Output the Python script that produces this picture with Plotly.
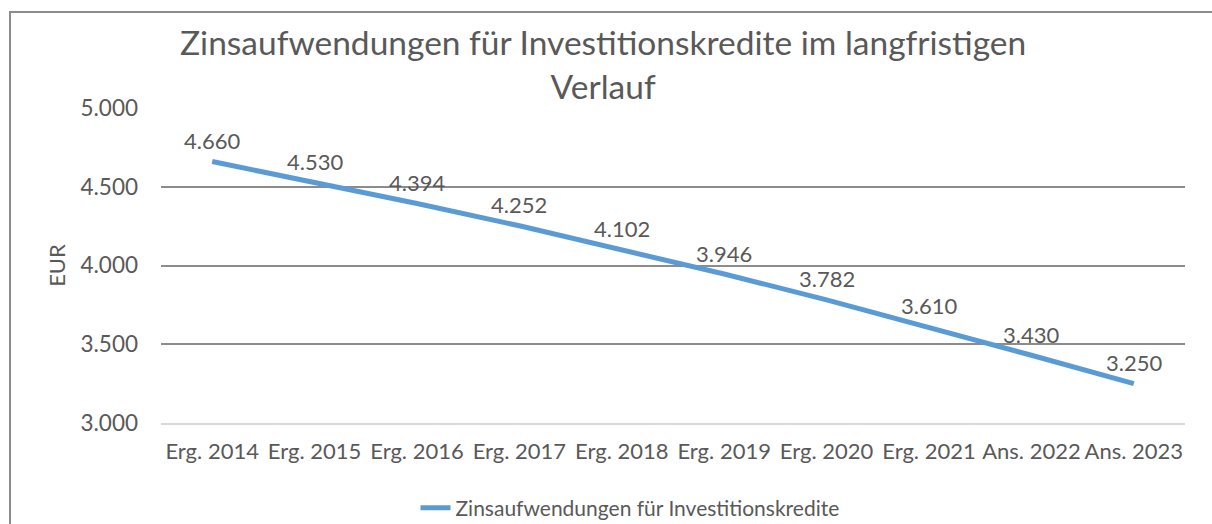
import plotly.graph_objects as go

categories = ["Erg. 2014", "Erg. 2015", "Erg. 2016", "Erg. 2017", "Erg. 2018",
              "Erg. 2019", "Erg. 2020", "Erg. 2021", "Ans. 2022", "Ans. 2023"]
values = [4660, 4530, 4394, 4252, 4102, 3946, 3782, 3610, 3430, 3250]
labels = ["4.660", "4.530", "4.394", "4.252", "4.102", "3.946", "3.782", "3.610", "3.430", "3.250"]
y_ticks = [3000, 3500, 4000, 4500, 5000]
y_tick_labels = ["3.000", "3.500", "4.000", "4.500", "5.000"]
series_name = "Zinsaufwendungen für Investitionskredite"
title_text = "Zinsaufwendungen für Investitionskredite im langfristigen<br>Verlauf"

FONT = "Lato"
TXT = "#595959"

fig = go.Figure()
fig.add_trace(go.Scatter(
    x=categories, y=values, mode="lines", name=series_name,
    line=dict(color="#5b9bd5", width=5),
    cliponaxis=False,
))

for c, v, t in zip(categories, values, labels):
    fig.add_annotation(x=c, y=v, text=t, showarrow=False, yshift=21,
                       xanchor="center", yanchor="middle",
                       font=dict(family=FONT, size=22, color=TXT))

W, H = 1212, 524
L, R, T, B = 161, 1185, 108, 423

fig.update_layout(
    width=W, height=H,
    margin=dict(l=L, r=W - R, t=T, b=H - B, autoexpand=False),
    paper_bgcolor="white", plot_bgcolor="white",
    font=dict(family=FONT, color=TXT, size=22),
    showlegend=True,
    legend=dict(orientation="h", x=(630 - L) / (R - L), xanchor="center",
                y=(B - 508) / (B - T), yanchor="middle",
                font=dict(family=FONT, size=21, color=TXT)),
    xaxis=dict(type="category", range=[-0.5, len(categories) - 0.5],
               showgrid=False, showline=True, linecolor="#d9d9d9",
               linewidth=2, ticks="", ticklabelstandoff=8, tickangle=0,
               tickfont=dict(family=FONT, size=22, color=TXT)),
    yaxis=dict(range=[3000, 5000], tickvals=y_ticks, ticktext=y_tick_labels,
               showgrid=True, gridcolor="#8c8c8c", gridwidth=2, zeroline=False,
               showline=False, ticks="", ticklabelstandoff=22,
               tickfont=dict(family=FONT, size=22.5, color=TXT),
               title=dict(text="EUR", font=dict(family=FONT, size=22, color=TXT), standoff=8)),
)

fig.add_annotation(
    text=title_text, xref="paper", yref="paper",
    x=(603 - L) / (R - L), y=(B - 64) / (B - T), xanchor="center", yanchor="middle",
    showarrow=False, font=dict(family=FONT, size=33.5, color=TXT),
)

fig.add_shape(type="rect", xref="paper", yref="paper",
              x0=(10 - L) / (R - L), x1=(1240 - L) / (R - L),
              y0=(B - 560) / (B - T), y1=(B - 12) / (B - T),
              line=dict(color="#8c8c8c", width=2), layer="below")

fig.write_html("out.html", config={"displayModeBar": False},
               post_script="document.body.style.margin='0';")
